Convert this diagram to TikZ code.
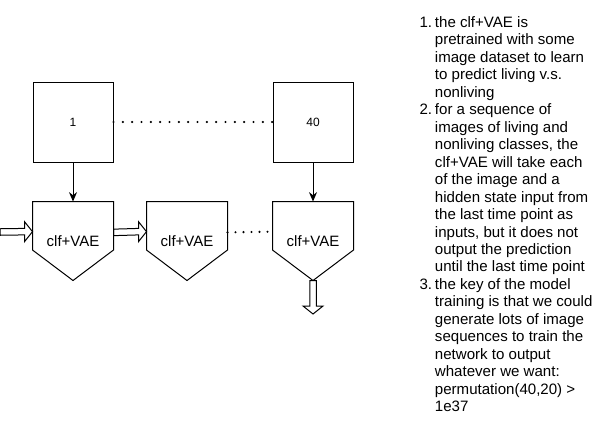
\documentclass[tikz,border=0pt]{standalone}
\usepackage{fontspec}
\setmainfont{Liberation Sans}
\usetikzlibrary{arrows.meta,calc}

\newcommand\numlabel[1]{\makebox[11.6pt][l]{#1}}
\newcommand\numskip{\hspace*{11.6pt}}

\tikzset{
  frame/.style={draw,minimum width=60pt,minimum height=60pt,inner sep=0pt,font=\fontsize{9}{11}\selectfont},
  vae/.style={minimum width=60pt,minimum height=58.5pt,inner sep=0pt,font=\fontsize{11.25}{13}\selectfont},
  hollowright/.style={to path={($(\tikztostart)+(0,3.25)$) -- ($(\tikztotarget)+(-8,3.25)$)
    -- ($(\tikztotarget)+(-8,10)$) -- (\tikztotarget) -- ($(\tikztotarget)+(-8,-10)$)
    -- ($(\tikztotarget)+(-8,-3.25)$) -- ($(\tikztostart)+(0,-3.25)$) -- cycle}},
  hollowdown/.style={to path={($(\tikztostart)+(-3.25,0)$) -- ($(\tikztotarget)+(-3.25,-8)$)
    -- ($(\tikztotarget)+(-10,-8)$) -- (\tikztotarget) -- ($(\tikztotarget)+(10,-8)$)
    -- ($(\tikztotarget)+(3.25,-8)$) -- ($(\tikztostart)+(3.25,0)$) -- cycle}},
}

\begin{document}
\begin{tikzpicture}[x=0.75pt,y=-0.75pt,line width=0.75pt,line join=miter]
  \useasboundingbox (0,0) rectangle (595,444);

  \node[frame] (b1) at (73,122) {1};
  \node[frame] (b40) at (313,122) {40};
  \draw[line cap=round,dash pattern=on 0pt off 7pt,line width=1.8pt] (b1.east) -- (b40.west);

  \node[vae] (p1) at (73,241) {clf+VAE};
  \node[vae] (p2) at (187,241) {clf+VAE};
  \node[vae] (p3) at (313,241) {clf+VAE};
  \foreach \p in {p1,p2,p3}
    \draw (\p.north west) -- (\p.north east) -- ($(\p.north east)+(0,48.5)$)
      -- (\p.south) -- ($(\p.north west)+(0,48.5)$) -- cycle;

  \draw[-{Stealth[length=7pt,width=6pt]}] (b1.south) -- (p1.north);
  \draw[-{Stealth[length=7pt,width=6pt]}] (b40.south) -- (p3.north);

  \coordinate (in) at (0,232);
  \coordinate (out) at (313,314);
  \draw[hollowright] (in) to (p1.167.3);
  \draw[hollowright] (p1.12.7) to (p2.167.3);
  \draw[line cap=round,dash pattern=on 0pt off 6pt,line width=1.8pt] (p2.12.7) -- (p3.167.3);
  \draw[hollowdown] (p3.south) to (out);

  \node[anchor=north west,inner sep=0pt,align=left,font=\fontsize{11.3}{13.1}\selectfont] (notes) at (419,16) {%
    \numlabel{1.}the clf+VAE is\\
    \numskip pretrained with some\\
    \numskip image dataset to learn\\
    \numskip to predict living v.s.\\
    \numskip nonliving\\
    \numlabel{2.}for a sequence of\\
    \numskip images of living and\\
    \numskip nonliving classes, the\\
    \numskip clf+VAE will take each\\
    \numskip of the image and a\\
    \numskip hidden state input from\\
    \numskip the last time point as\\
    \numskip inputs, but it does not\\
    \numskip output the prediction\\
    \numskip until the last time point\\
    \numlabel{3.}the key of the model\\
    \numskip training is that we could\\
    \numskip generate lots of image\\
    \numskip sequences to train the\\
    \numskip network to output\\
    \numskip whatever we want:\\
    \numskip permutation(40,20) >\\
    \numskip 1e37};
\end{tikzpicture}
\end{document}
